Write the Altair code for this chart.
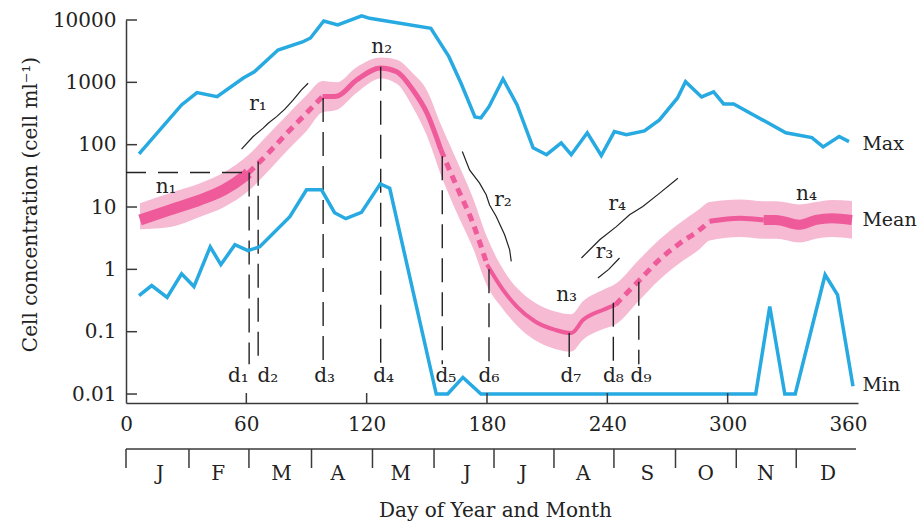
import altair as alt
import pandas as pd

FONT = "DejaVu Serif"
INK = "#222222"
AXIS_INK = "#3a3a3a"
BLUE = "#27a9e1"
PINK = "#ee5a9a"
BAND = "#f08cb6"

X_DOMAIN = [0, 365]
Y_DOMAIN = [0.00718, 10000]

x_tick_values = [0, 60, 120, 180, 240, 300, 360]
x_inner_ticks = [60, 120, 180, 240, 300]
y_tick_values = [0.01, 0.1, 1, 10, 100, 1000, 10000]

month_names = ["J", "F", "M", "A", "M", "J", "J", "A", "S", "O", "N", "D"]
month_starts = [0, 31.4, 61.3, 92.5, 122.9, 153.6, 183.5, 213.4, 243.3, 274, 304.3, 334.2]
month_label_days = [17, 46, 77.5, 105.6, 137, 170, 198, 228, 260, 289, 319, 350]
month_axis_end = 364

# Max series
max_days = [6.5, 27.7, 35.4, 45.4, 58.5, 64, 75.8, 88, 92, 98.6,
            105.6, 117.5, 121.5, 152, 161, 167, 174, 177, 181, 188,
            195, 203, 209.7, 217, 222, 230, 237, 243.5, 249.5, 258.5,
            266, 275, 279, 287, 293, 298, 303, 329, 342, 347.6,
            355.6, 360.5]
max_vals = [71, 434, 684, 590, 1175, 1480, 3300, 4440, 5150, 9640,
            8320, 11700, 10650, 7360, 2580, 977, 279, 269, 407, 1133,
            434, 89, 69, 107, 69, 155, 67, 162, 144, 166,
            250, 562, 1025, 583, 702, 451, 451, 155, 130, 92,
            135, 112]

# Min series
min_days = [6.5, 12.8, 20.5, 27.7, 33.9, 42, 47.3, 54.3, 60.8, 66.7,
            81.7, 90, 97.5, 104, 109.6, 117.4, 126.8, 131.5, 154.7, 160.4,
            168, 177, 240, 314, 321, 328.5, 333.7, 348.6, 354.8, 362.5]
min_vals = [0.38, 0.55, 0.355, 0.85, 0.53, 2.3, 1.19, 2.48, 2.0, 2.3,
            7.0, 18.9, 18.9, 8.1, 6.5, 8.2, 23.5, 20, 0.01, 0.01,
            0.0185, 0.01, 0.01, 0.01, 0.254, 0.01, 0.01, 0.82, 0.39, 0.0133]

# Mean segments
n1_days = [7, 22, 37, 49, 59, 61]
n1_vals = [6.2, 9.0, 13, 19, 31, 35]
r1_days = [61, 70, 80, 90, 98]
r1_vals = [35, 68, 150, 320, 590]
peak_days = [98, 105, 115, 127, 135, 143, 150, 157]
peak_vals = [590, 600, 1090, 1700, 1480, 760, 325, 83]
r2_days = [157, 165, 173, 180]
r2_vals = [83, 21, 5.5, 1.2]
n3_days = [180, 188, 195, 204, 214, 222, 228, 238, 244]
n3_vals = [1.2, 0.47, 0.25, 0.146, 0.107, 0.095, 0.155, 0.225, 0.27]
r34_days = [244, 256, 266, 276, 286, 291]
r34_vals = [0.27, 0.67, 1.43, 2.6, 4.3, 5.9]
n4a_days = [291, 306, 318]
n4a_vals = [5.9, 6.6, 6.2]
n4b_days = [318, 324, 336, 344, 352, 362]
n4b_vals = [6.2, 6.2, 5.2, 6.2, 6.6, 6.2]

# Band around the mean
band_days = [7, 22, 37, 49, 61, 70, 80, 90, 98, 105, 115, 127, 135, 143, 150,
             157, 165, 173, 180, 188, 195, 204, 214, 222, 228, 238, 244, 256,
             266, 276, 286, 291, 306, 318, 324, 336, 344, 352, 362]
band_lo = [4.4, 4.8, 7, 10, 18, 35, 78, 165, 330, 360, 680, 1150, 950, 400, 140,
           33, 8, 2.2, 0.55, 0.23, 0.125, 0.073, 0.053, 0.048, 0.075, 0.11, 0.13, 0.32,
           0.68, 1.25, 2.1, 2.9, 3.3, 3.1, 3.1, 2.7, 3.1, 3.3, 3.1]
band_hi = [11.5, 16.8, 24, 36, 68, 135, 290, 620, 1050, 1000, 1750, 2500, 2300, 1400, 750,
           210, 55, 14, 3.3, 1.0, 0.5, 0.29, 0.21, 0.19, 0.31, 0.47, 0.58, 1.45,
           3.0, 5.5, 9.3, 12, 13.2, 12.4, 12.4, 11, 12, 13, 12.5]

# Rate curves (thin black)
r1c_days = [57.6, 63.4, 68.4, 70.9, 75.1, 79.2, 83.4, 87.5, 90.8]
r1c_vals = [85, 135, 184, 221, 282, 371, 522, 755, 968]
r2c_days = [167.7, 171.3, 176.3, 179.6, 181.3, 184.6, 188.8, 191.3, 192.1]
r2c_vals = [77.5, 39.4, 24.2, 15.7, 10.8, 7.05, 3.58, 2.06, 1.34]
r3c_days = [235.3, 240.7, 246.1]
r3c_vals = [0.726, 1.0, 1.52]
r4c_days = [227.1, 236.2, 244.5, 251.1, 257.7, 266.1, 275.2]
r4c_vals = [1.52, 2.98, 4.85, 7.5, 10.2, 16.7, 29.0]

# d markers
d_days = [61.4, 65.9, 98.3, 127, 157.7, 181, 221, 243, 255.7]
d_tops = [35.7, 53, 560, 1780, 65, 1.0, 0.095, 0.29, 0.63]
d_bottom = 0.03
d_labels = ["d₁", "d₂", "d₃", "d₄", "d₅", "d₆", "d₇", "d₈", "d₉"]
d_label_days = [56, 70.7, 99, 128.5, 159.5, 181, 221.8, 243, 256.8]
d_label_val = 0.0158

hline_days = [0, 61.4]
hline_val = 35.7

n_labels = ["n₁", "n₂", "n₃", "n₄"]
n_label_days = [20, 127.5, 219.7, 339.3]
n_label_vals = [16.7, 2930, 0.306, 13]

r_labels = ["r₁", "r₂", "r₃", "r₄"]
r_label_days = [65.8, 188, 238.6, 245]
r_label_vals = [361, 10.2, 1.52, 9.0]

series_labels = ["Max", "Mean", "Min"]
series_label_day = 367.2
series_label_vals = [82, 4.9, 0.0111]

# ---------------------------------------------------------------
xs = alt.Scale(domain=X_DOMAIN, nice=False, zero=False)
ys = alt.Scale(type="log", domain=Y_DOMAIN, nice=False)

x_axis = alt.Axis(values=x_tick_values, ticks=False, tickSize=0, grid=False,
                  labelPadding=11, labelFlush=False, labelOverlap=False,
                  title="Day of Year and Month", titleX=369, titleY=113,
                  titleBaseline="alphabetic", titleAlign="center")
y_axis = alt.Axis(values=y_tick_values, ticks=False, tickSize=0, grid=False,
                  labelPadding=10, labelOverlap=False, labelFlush=False,
                  labelExpr="datum.value < 1 ? format(datum.value, '.2~f') : format(datum.value, 'd')",
                  title="Cell concentration (cell ml⁻¹)", titleX=-96, titleY=184,
                  titleAngle=270, titleAlign="center", titleBaseline="middle")


def X(f):
    return alt.X(f"{f}:Q", scale=xs, axis=x_axis)


def Y(f):
    return alt.Y(f"{f}:Q", scale=ys, axis=y_axis)


band_df = pd.DataFrame({"day": band_days, "lo": band_lo, "hi": band_hi})
band = alt.Chart(band_df).mark_area(color=BAND, opacity=0.6, interpolate="monotone").encode(
    x=X("day"), y=Y("lo"), y2=alt.Y2("hi:Q"))

segments = [
    ("n1", "solid", 11, n1_days, n1_vals),
    ("r1", "dash", 5, r1_days, r1_vals),
    ("peak", "solid", 5, peak_days, peak_vals),
    ("r2", "dash", 5, r2_days, r2_vals),
    ("n3", "solid", 4, n3_days, n3_vals),
    ("r34", "dash", 5, r34_days, r34_vals),
    ("n4a", "solid", 5, n4a_days, n4a_vals),
    ("n4b", "solid", 10, n4b_days, n4b_vals),
]
rows = []
for name, style, w, ds, vs in segments:
    for d, v in zip(ds, vs):
        rows.append({"seg": name, "style": style, "w": w, "day": d, "val": v})
mean_df = pd.DataFrame(rows)

mean_solid = alt.Chart(mean_df[mean_df["style"] == "solid"]).mark_line(
    color=PINK, strokeCap="butt", strokeJoin="round", interpolate="monotone").encode(
    x=X("day"), y=Y("val"), detail="seg:N",
    strokeWidth=alt.StrokeWidth("w:Q", scale=None))
mean_dash = alt.Chart(mean_df[mean_df["style"] == "dash"]).mark_line(
    color=PINK, strokeWidth=5, strokeDash=[8, 6], strokeCap="butt", interpolate="monotone").encode(
    x=X("day"), y=Y("val"), detail="seg:N")

max_line = alt.Chart(pd.DataFrame({"day": max_days, "val": max_vals})).mark_line(
    color=BLUE, strokeWidth=3.5).encode(x=X("day"), y=Y("val"))
min_line = alt.Chart(pd.DataFrame({"day": min_days, "val": min_vals})).mark_line(
    color=BLUE, strokeWidth=3.5).encode(x=X("day"), y=Y("val"))

crows = []
for name, ds, vs in [("r1", r1c_days, r1c_vals), ("r2", r2c_days, r2c_vals),
                     ("r3", r3c_days, r3c_vals), ("r4", r4c_days, r4c_vals)]:
    for i, (d, v) in enumerate(zip(ds, vs)):
        crows.append({"c": name, "i": i, "day": d, "val": v})
curves = alt.Chart(pd.DataFrame(crows)).mark_line(color=INK, strokeWidth=1.2).encode(
    x=X("day"), y=Y("val"), detail="c:N", order="i:Q")

d_df = pd.DataFrame({"day": d_days, "top": d_tops, "bot": [d_bottom] * len(d_days)})
d_rules = alt.Chart(d_df).mark_rule(color=INK, strokeWidth=1.4, strokeDash=[24, 10]).encode(
    x=X("day"), y=Y("top"), y2=alt.Y2("bot:Q"))

h_df = pd.DataFrame({"x0": [hline_days[0]], "x1": [hline_days[1]], "val": [hline_val]})
h_rule = alt.Chart(h_df).mark_rule(color=INK, strokeWidth=1.4, strokeDash=[20, 12]).encode(
    x=X("x0"), x2=alt.X2("x1:Q"), y=Y("val"))

yt = alt.Chart(pd.DataFrame({"v": y_tick_values})).mark_rule(color=AXIS_INK, strokeWidth=1.5).encode(
    y=Y("v"), x=alt.value(0), x2=alt.value(11))
xt = alt.Chart(pd.DataFrame({"v": x_inner_ticks})).mark_rule(color=AXIS_INK, strokeWidth=1.5).encode(
    x=X("v"), y=alt.value(383), y2=alt.value(373))

m_line = alt.Chart(pd.DataFrame({"s": [month_starts[0]], "e": [month_axis_end]})).mark_rule(
    color=AXIS_INK, strokeWidth=1.5).encode(x=X("s"), x2=alt.X2("e:Q"), y=alt.value(429))
m_ticks = alt.Chart(pd.DataFrame({"d": month_starts})).mark_rule(
    color=AXIS_INK, strokeWidth=1.5).encode(x=X("d"), y=alt.value(429), y2=alt.value(448))
m_labels = alt.Chart(pd.DataFrame({"d": month_label_days, "m": month_names})).mark_text(
    font=FONT, fontSize=20, color=INK, baseline="alphabetic", align="center").encode(
    x=X("d"), y=alt.value(460), text="m:N")

d_text = alt.Chart(pd.DataFrame({"day": d_label_days, "val": [d_label_val] * len(d_labels),
                                 "t": d_labels})).mark_text(
    font=FONT, fontSize=20, color=INK, baseline="alphabetic", align="center").encode(
    x=X("day"), y=Y("val"), text="t:N")
n_text = alt.Chart(pd.DataFrame({"day": n_label_days, "val": n_label_vals, "t": n_labels})).mark_text(
    font=FONT, fontSize=20, color=INK, baseline="alphabetic", align="center").encode(
    x=X("day"), y=Y("val"), text="t:N")
r_text = alt.Chart(pd.DataFrame({"day": r_label_days, "val": r_label_vals, "t": r_labels})).mark_text(
    font=FONT, fontSize=20, color=INK, baseline="alphabetic", align="center").encode(
    x=X("day"), y=Y("val"), text="t:N")
s_text = alt.Chart(pd.DataFrame({"day": [series_label_day] * 3, "val": series_label_vals,
                                 "t": series_labels})).mark_text(
    font=FONT, fontSize=19, color=INK, baseline="alphabetic", align="left").encode(
    x=X("day"), y=Y("val"), text="t:N")

chart = alt.layer(
    band, mean_solid, mean_dash, d_rules, h_rule, curves, max_line, min_line,
    yt, xt, m_line, m_ticks, m_labels, d_text, n_text, r_text, s_text
).properties(
    width=732, height=383,
    padding={"left": 126, "top": 20, "right": 62, "bottom": 119},
    autosize=alt.AutoSizeParams(type="none"),
).configure_view(stroke=None).configure_axis(
    labelFont=FONT, labelFontSize=20, labelColor=INK,
    titleFont=FONT, titleFontSize=20, titleFontWeight="normal", titleColor=INK,
    domainColor=AXIS_INK, domainWidth=1.5,
)

chart.save("out.html", embed_options={"renderer": "svg", "actions": False})
